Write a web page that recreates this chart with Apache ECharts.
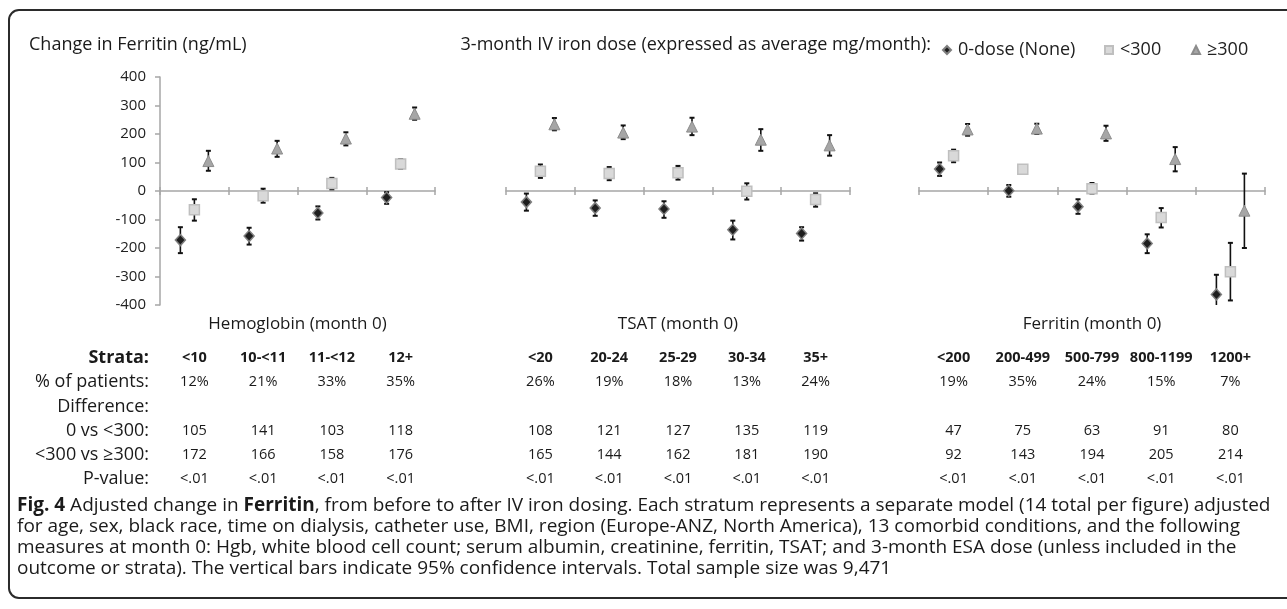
<!DOCTYPE html>
<html>
<head>
<meta charset="utf-8">
<title>Change in Ferritin</title>
<script src="https://cdn.jsdelivr.net/npm/echarts@6/dist/echarts.min.js"></script>
<style>
html, body { margin: 0; padding: 0; background: #fff; }
#chart { width: 1287px; height: 609px; }
</style>
</head>
<body>
<div id="chart"></div>
<script>
// strata per panel
const hgbStrata = ['<10', '10-<11', '11-<12', '12+'];
const tsatStrata = ['<20', '20-24', '25-29', '30-34', '35+'];
const ferStrata = ['<200', '200-499', '500-799', '800-1199', '1200+'];
const panelTitles = ['Hemoglobin (month 0)', 'TSAT (month 0)', 'Ferritin (month 0)'];
const doseNames = ['0-dose (None)', '<300', '≥300'];
const yTicks = { min: -400, max: 400, step: 100 };

// adjusted change in ferritin, mean and 95% CI [low, high]
const hgbNone = [-172, -158, -77, -23];
const hgbNoneCI = [[-218, -127], [-188, -129], [-100, -54], [-45, -4]];
const hgbLow = [-66, -17, 26, 95];
const hgbLowCI = [[-104, -29], [-41, 8], [6, 46], [78, 112]];
const hgbHigh = [105, 149, 184, 271];
const hgbHighCI = [[71, 141], [120, 176], [160, 206], [250, 293]];

const tsatNone = [-39, -60, -63, -136, -149];
const tsatNoneCI = [[-69, -9], [-87, -33], [-94, -36], [-170, -104], [-174, -127]];
const tsatLow = [69, 61, 64, -1, -30];
const tsatLowCI = [[46, 93], [38, 84], [40, 88], [-30, 27], [-55, -8]];
const tsatHigh = [234, 205, 226, 180, 160];
const tsatHighCI = [[213, 256], [182, 230], [196, 257], [141, 217], [124, 196]];

const ferNone = [77, 1, -55, -184, -363];
const ferNoneCI = [[53, 100], [-20, 21], [-80, -29], [-218, -152], [-430, -294]];
const ferLow = [124, 76, 8, -93, -283];
const ferLowCI = [[101, 145], [71, 81], [-9, 28], [-128, -60], [-384, -182]];
const ferHigh = [216, 219, 202, 112, -69];
const ferHighCI = [[194, 235], [200, 236], [176, 229], [69, 154], [-200, 61]];

// table under the chart
const hgbPct = ['12%', '21%', '33%', '35%'];
const tsatPct = ['26%', '19%', '18%', '13%', '24%'];
const ferPct = ['19%', '35%', '24%', '15%', '7%'];
const hgbDiffLow = [105, 141, 103, 118];
const tsatDiffLow = [108, 121, 127, 135, 119];
const ferDiffLow = [47, 75, 63, 91, 80];
const hgbDiffHigh = [172, 166, 158, 176];
const tsatDiffHigh = [165, 144, 162, 181, 190];
const ferDiffHigh = [92, 143, 194, 205, 214];
const hgbP = ['<.01', '<.01', '<.01', '<.01'];
const tsatP = ['<.01', '<.01', '<.01', '<.01', '<.01'];
const ferP = ['<.01', '<.01', '<.01', '<.01', '<.01'];

const rowLabels = ['Strata:', '% of patients:', 'Difference:', '0 vs <300:', '<300 vs ≥300:', 'P-value:'];

const panels = [
  { strata: hgbStrata, means: [hgbNone, hgbLow, hgbHigh], cis: [hgbNoneCI, hgbLowCI, hgbHighCI],
    rows: [hgbStrata, hgbPct, null, hgbDiffLow, hgbDiffHigh, hgbP] },
  { strata: tsatStrata, means: [tsatNone, tsatLow, tsatHigh], cis: [tsatNoneCI, tsatLowCI, tsatHighCI],
    rows: [tsatStrata, tsatPct, null, tsatDiffLow, tsatDiffHigh, tsatP] },
  { strata: ferStrata, means: [ferNone, ferLow, ferHigh], cis: [ferNoneCI, ferLowCI, ferHighCI],
    rows: [ferStrata, ferPct, null, ferDiffLow, ferDiffHigh, ferP] }
];

// layout
const FONT = '"Open Sans", "Noto Sans", sans-serif';
const gridTop = 77, gridHeight = 228;
const panelLeft = [160, 506, 919];
const panelWidth = [275, 344, 346];
const markerOffset = [-14, 0, 14];
const rowY = [358, 382, 407, 431, 455, 479];
const axisGray = '#a6a6a6';

const markerStyle = [
  { symbol: 'diamond', size: [10, 11], itemStyle: { color: '#1e1e1e', borderColor: '#7f7f7f', borderWidth: 1.5, opacity: 1 } },
  { symbol: 'rect', size: 10, itemStyle: { color: '#d9d9d9', borderColor: '#bfbfbf', borderWidth: 1.5, opacity: 1 } },
  { symbol: 'triangle', size: [11, 11], itemStyle: { color: '#a6a6a6', borderColor: '#8c8c8c', borderWidth: 1, opacity: 1 } }
];

function errorBar(offset) {
  return function (params, api) {
    const x = api.coord([api.value(0), 0])[0] + offset;
    const yLo = api.coord([api.value(0), api.value(1)])[1];
    const yHi = api.coord([api.value(0), api.value(2)])[1];
    const cap = { stroke: '#111', lineWidth: 2 };
    return {
      type: 'group',
      children: [
        { type: 'line', shape: { x1: x, y1: yLo, x2: x, y2: yHi }, style: { stroke: '#111', lineWidth: 1.6 } },
        { type: 'line', shape: { x1: x - 2.5, y1: yLo, x2: x + 2.5, y2: yLo }, style: cap },
        { type: 'line', shape: { x1: x - 2.5, y1: yHi, x2: x + 2.5, y2: yHi }, style: cap }
      ]
    };
  };
}

const grids = [], xAxes = [], yAxes = [], series = [];
panels.forEach((p, pi) => {
  grids.push({ left: panelLeft[pi], top: gridTop, width: panelWidth[pi], height: gridHeight });
  // visible axis on zero, ticks pointing down
  xAxes.push({
    type: 'category', gridIndex: pi, data: p.strata, boundaryGap: true,
    axisLine: { onZero: true, lineStyle: { color: axisGray, width: 1.5 } },
    axisTick: { show: true, interval: 0, length: 4, lineStyle: { color: axisGray, width: 1.5 } },
    axisLabel: { show: false }, splitLine: { show: false }
  });
  // second axis only for the upward half of the crossing ticks
  xAxes.push({
    type: 'category', gridIndex: pi, data: p.strata, boundaryGap: true, position: 'top',
    offset: -gridHeight / 2,
    axisLine: { show: false, onZero: false },
    axisTick: { show: true, interval: 0, length: 4, lineStyle: { color: axisGray, width: 1.5 } },
    axisLabel: { show: false }, splitLine: { show: false }
  });
  yAxes.push({
    type: 'value', gridIndex: pi, min: yTicks.min, max: yTicks.max, interval: yTicks.step,
    show: pi === 0,
    axisLine: { show: true, lineStyle: { color: axisGray, width: 1.5 } },
    axisTick: { show: true, length: 5, lineStyle: { color: axisGray, width: 1.5 } },
    axisLabel: { margin: 14, fontFamily: FONT, fontSize: 15, color: '#222' },
    splitLine: { show: false }
  });
  p.means.forEach((vals, gi) => {
    series.push({
      type: 'custom', xAxisIndex: pi * 2, yAxisIndex: pi, z: 2, clip: true, silent: true,
      renderItem: errorBar(markerOffset[gi]),
      data: p.cis[gi].map((c, i) => [i, c[0], c[1]])
    });
    series.push({
      type: 'scatter', name: doseNames[gi], xAxisIndex: pi * 2, yAxisIndex: pi, z: 3,
      symbol: markerStyle[gi].symbol, symbolSize: markerStyle[gi].size,
      symbolOffset: [markerOffset[gi], 0],
      itemStyle: markerStyle[gi].itemStyle,
      data: vals.map((v, i) => [i, v])
    });
  });
});

function legendAt(name, icon, left) {
  return {
    data: [{ name: name, icon: icon }], left: left, top: 36,
    itemWidth: 8, itemHeight: 8, itemGap: 0, selectedMode: false,
    textStyle: { fontFamily: FONT, fontSize: 18, color: '#222', padding: [0, 0, 0, 2] }
  };
}

const chart = echarts.init(document.getElementById('chart'));
chart.setOption({
  backgroundColor: '#fff',
  animation: false,
  grid: grids,
  xAxis: xAxes,
  yAxis: yAxes,
  legend: [
    legendAt(doseNames[0], 'diamond', 937),
    legendAt(doseNames[1], 'rect', 1099),
    legendAt(doseNames[2], 'triangle', 1186)
  ],
  series: series
});

// texts: titles, table, caption
function txt(x, y, text, size, align, weight) {
  return {
    type: 'text', silent: true,
    style: {
      x: x, y: y, text: text, align: align || 'left', verticalAlign: 'middle',
      fontFamily: FONT, fontSize: size, fontWeight: weight || 'normal', fill: '#1a1a1a'
    }
  };
}

const g = [];
g.push({
  type: 'rect', silent: true,
  shape: { x: 9, y: 10, width: 1300, height: 588, r: 10 },
  style: { fill: 'none', stroke: '#2b2b2b', lineWidth: 2 }
});
g.push(txt(29, 45, 'Change in Ferritin (ng/mL)', 18));
g.push(txt(931, 45, '3-month IV iron dose (expressed as average mg/month):', 18, 'right'));

panels.forEach((p, pi) => {
  const cx = panelLeft[pi] + panelWidth[pi] / 2;
  g.push(txt(cx, 324, panelTitles[pi], 17, 'center'));
  p.rows.forEach((row, ri) => {
    if (!row) return;
    row.forEach((val, i) => {
      const x = chart.convertToPixel({ xAxisIndex: pi * 2 }, i);
      g.push(txt(x, rowY[ri], String(val), 14.5, 'center', ri === 0 ? 'bold' : 'normal'));
    });
  });
});
rowLabels.forEach((lab, ri) => {
  g.push(txt(149, rowY[ri], lab, 18, 'right', ri === 0 ? 'bold' : 'normal'));
});

const captionLines = [
  '{b|Fig. 4} Adjusted change in {b|Ferritin}, from before to after IV iron dosing. Each stratum represents a separate model (14 total per figure) adjusted',
  'for age, sex, black race, time on dialysis, catheter use, BMI, region (Europe-ANZ, North America), 13 comorbid conditions, and the following',
  'measures at month 0: Hgb, white blood cell count; serum albumin, creatinine, ferritin, TSAT; and 3-month ESA dose (unless included in the',
  'outcome or strata). The vertical bars indicate 95% confidence intervals. Total sample size was 9,471'
];
captionLines.forEach((line, i) => {
  g.push({
    type: 'text', silent: true,
    style: {
      x: 17, y: 506 + i * 20.8, text: line, verticalAlign: 'middle',
      fontFamily: FONT, fontSize: 19, fill: '#1a1a1a',
      rich: { b: { fontFamily: FONT, fontSize: 19, fontWeight: 'bold', fill: '#1a1a1a' } }
    }
  });
});

chart.setOption({ graphic: { elements: g } });
</script>
</body>
</html>
